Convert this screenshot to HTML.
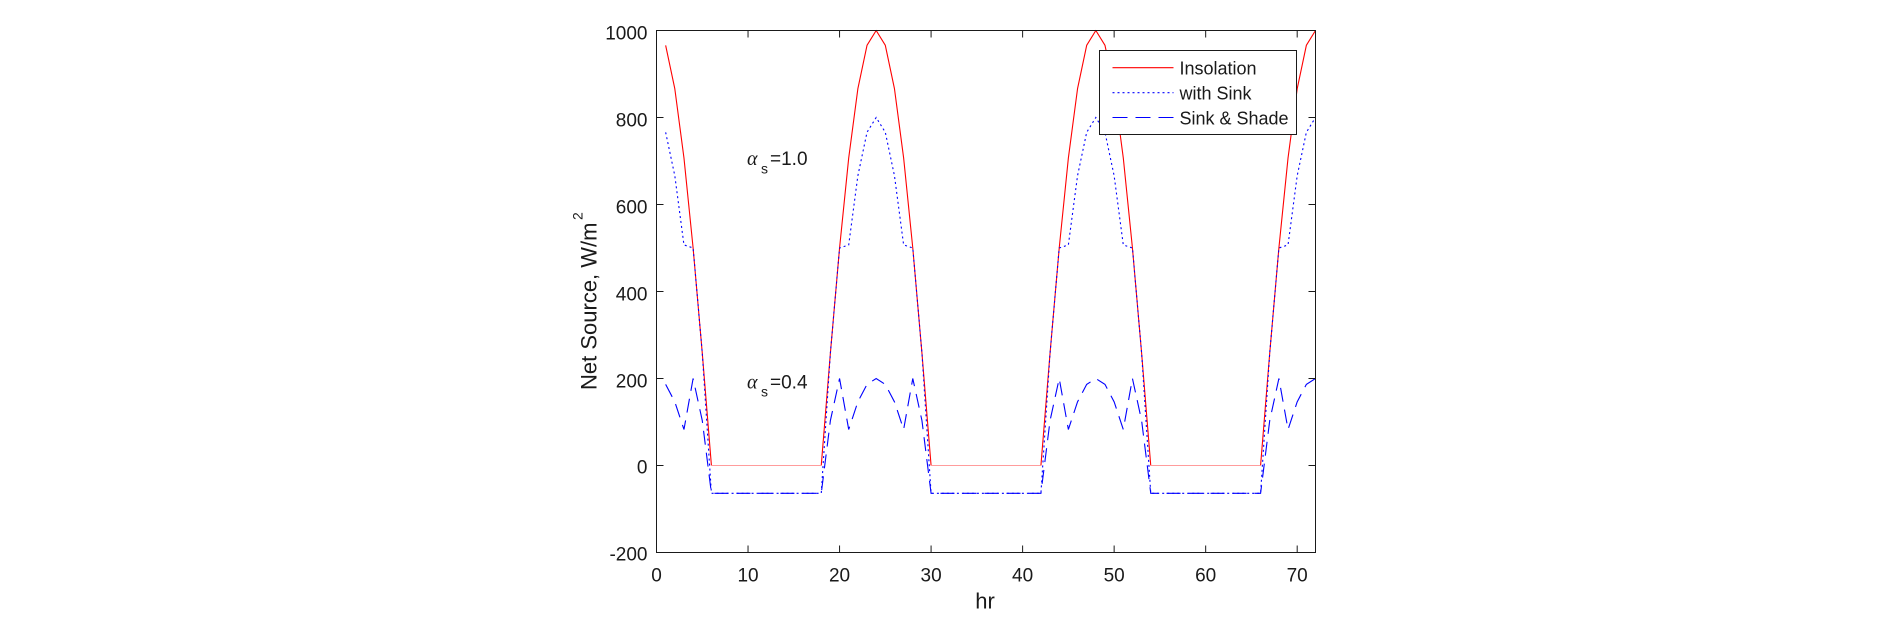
<!DOCTYPE html>
<html>
<head>
<meta charset="utf-8">
<style>
html,body{margin:0;padding:0;background:#fff;}
svg{display:block;}
text{font-family:"Liberation Sans",Arial,sans-serif;fill:#1a1a1a;}
</style>
</head>
<body>
<svg width="1890" height="638" viewBox="0 0 1890 638" xmlns="http://www.w3.org/2000/svg">
<rect x="0" y="0" width="1890" height="638" fill="#fff"/>

<!-- data: red insolation -->
<g fill="none" stroke-width="1.1" stroke-linejoin="round">
<polyline stroke="#ff0000" points="665.65,45.33 674.81,88.79 683.96,157.91 693.11,248.0 702.26,352.92 711.42,465.5"/>
<polyline stroke="#ff0000" points="821.25,465.5 830.40,352.92 839.56,248.0 848.71,157.91 857.86,88.79 867.01,45.33 876.17,30.5 885.32,45.33 894.47,88.79 903.63,157.91 912.78,248.0 921.93,352.92 931.08,465.5"/>
<polyline stroke="#ff0000" points="1040.92,465.5 1050.07,352.92 1059.22,248.0 1068.38,157.91 1077.53,88.79 1086.68,45.33 1095.83,30.5 1104.99,45.33 1114.14,88.79 1123.29,157.91 1132.44,248.0 1141.60,352.92 1150.75,465.5"/>
<polyline stroke="#ff0000" points="1260.58,465.5 1269.74,352.92 1278.89,248.0 1288.04,157.91 1297.19,88.79 1306.35,45.33 1315.50,30.5"/>
<line stroke="#ff9c9c" x1="711.42" y1="465.5" x2="821.25" y2="465.5"/>
<line stroke="#ff9c9c" x1="931.08" y1="465.5" x2="1040.92" y2="465.5"/>
<line stroke="#ff9c9c" x1="1150.75" y1="465.5" x2="1260.58" y2="465.5"/>
</g>

<!-- with Sink (dotted) -->
<polyline fill="none" stroke="#0000ff" stroke-width="1.1" stroke-dasharray="2 3" points="665.65,132.33 674.81,175.79 683.96,244.91 693.11,248.0 702.26,352.92 711.42,493.34 821.25,493.34 830.40,352.92 839.56,248.0 848.71,244.91 857.86,175.79 867.01,132.33 876.17,117.5 885.32,132.33 894.47,175.79 903.63,244.91 912.78,248.0 921.93,352.92 931.08,493.34 1040.92,493.34 1050.07,352.92 1059.22,248.0 1068.38,244.91 1077.53,175.79 1086.68,132.33 1095.83,117.5 1104.99,132.33 1114.14,175.79 1123.29,244.91 1132.44,248.0 1141.60,352.92 1150.75,493.34 1260.58,493.34 1269.74,352.92 1278.89,248.0 1288.04,244.91 1297.19,175.79 1306.35,132.33 1315.50,117.5"/>

<!-- Sink & Shade (dashed) -->
<polyline fill="none" stroke="#0000ff" stroke-width="1.1" stroke-dasharray="14 8" points="665.65,384.42 674.81,401.82 683.96,429.48 693.11,378.5 702.26,420.52 711.42,493.34 821.25,493.34 830.40,420.52 839.56,378.5 848.71,429.48 857.86,401.82 867.01,384.42 876.17,378.5 885.32,384.42 894.47,401.82 903.63,429.48 912.78,378.5 921.93,420.52 931.08,493.34 1040.92,493.34 1050.07,420.52 1059.22,378.5 1068.38,429.48 1077.53,401.82 1086.68,384.42 1095.83,378.5 1104.99,384.42 1114.14,401.82 1123.29,429.48 1132.44,378.5 1141.60,420.52 1150.75,493.34 1260.58,493.34 1269.74,420.52 1278.89,378.5 1288.04,429.48 1297.19,401.82 1306.35,384.42 1315.50,378.5"/>

<!-- axes box -->
<rect x="656.5" y="30.5" width="659" height="522" fill="none" stroke="#1a1a1a" stroke-width="1"/>

<!-- ticks -->
<g stroke="#1a1a1a" stroke-width="1">
<line x1="748.03" y1="552.5" x2="748.03" y2="545.5"/>
<line x1="839.56" y1="552.5" x2="839.56" y2="545.5"/>
<line x1="931.08" y1="552.5" x2="931.08" y2="545.5"/>
<line x1="1022.61" y1="552.5" x2="1022.61" y2="545.5"/>
<line x1="1114.14" y1="552.5" x2="1114.14" y2="545.5"/>
<line x1="1205.67" y1="552.5" x2="1205.67" y2="545.5"/>
<line x1="1297.19" y1="552.5" x2="1297.19" y2="545.5"/>
<line x1="748.03" y1="30.5" x2="748.03" y2="37.5"/>
<line x1="839.56" y1="30.5" x2="839.56" y2="37.5"/>
<line x1="931.08" y1="30.5" x2="931.08" y2="37.5"/>
<line x1="1022.61" y1="30.5" x2="1022.61" y2="37.5"/>
<line x1="1114.14" y1="30.5" x2="1114.14" y2="37.5"/>
<line x1="1205.67" y1="30.5" x2="1205.67" y2="37.5"/>
<line x1="1297.19" y1="30.5" x2="1297.19" y2="37.5"/>
<line x1="656.5" y1="117.5" x2="663.5" y2="117.5"/>
<line x1="656.5" y1="204.5" x2="663.5" y2="204.5"/>
<line x1="656.5" y1="291.5" x2="663.5" y2="291.5"/>
<line x1="656.5" y1="378.5" x2="663.5" y2="378.5"/>
<line x1="656.5" y1="465.5" x2="663.5" y2="465.5"/>
<line x1="1315.5" y1="117.5" x2="1308.5" y2="117.5"/>
<line x1="1315.5" y1="204.5" x2="1308.5" y2="204.5"/>
<line x1="1315.5" y1="291.5" x2="1308.5" y2="291.5"/>
<line x1="1315.5" y1="378.5" x2="1308.5" y2="378.5"/>
<line x1="1315.5" y1="465.5" x2="1308.5" y2="465.5"/>
</g>

<!-- y tick labels -->
<g font-size="19" text-anchor="end">
<text x="647.5" y="39.5">1000</text>
<text x="647.5" y="126.5">800</text>
<text x="647.5" y="213.5">600</text>
<text x="647.5" y="300.5">400</text>
<text x="647.5" y="387.5">200</text>
<text x="647.5" y="473.5">0</text>
<text x="647.5" y="560.5">-200</text>
</g>

<!-- x tick labels -->
<g font-size="19" text-anchor="middle">
<text x="656.5" y="581.7">0</text>
<text x="748.03" y="581.7">10</text>
<text x="839.56" y="581.7">20</text>
<text x="931.08" y="581.7">30</text>
<text x="1022.61" y="581.7">40</text>
<text x="1114.14" y="581.7">50</text>
<text x="1205.67" y="581.7">60</text>
<text x="1297.19" y="581.7">70</text>
</g>

<!-- axis labels -->
<text x="985" y="608.3" font-size="22" text-anchor="middle">hr</text>
<g transform="translate(596.7,390) rotate(-90)">
<text x="0" y="0" font-size="22">Net Source, W/m</text>
<text x="170" y="-14" font-size="14">2</text>
</g>

<!-- annotations -->
<text x="747" y="165" font-size="20" style="font-family:'Liberation Serif',serif;font-style:italic;">α</text>
<text x="761" y="173.3" font-size="14">s</text>
<text x="770" y="165" font-size="19">=1.0</text>

<text x="747" y="388.3" font-size="20" style="font-family:'Liberation Serif',serif;font-style:italic;">α</text>
<text x="761" y="396.7" font-size="14">s</text>
<text x="770" y="388.3" font-size="19">=0.4</text>

<!-- legend -->
<rect x="1099.5" y="50.5" width="197" height="84" fill="#fff" stroke="#1a1a1a" stroke-width="1"/>
<line x1="1112.5" y1="67.7" x2="1173.5" y2="67.7" stroke="#ff0000" stroke-width="1.1"/>
<line x1="1112.5" y1="92.7" x2="1173.5" y2="92.7" stroke="#0000ff" stroke-width="1.1" stroke-dasharray="2 3"/>
<line x1="1112.5" y1="117.5" x2="1173.5" y2="117.5" stroke="#0000ff" stroke-width="1.1" stroke-dasharray="15 8"/>
<g font-size="18">
<text x="1179.5" y="74.4">Insolation</text>
<text x="1179.5" y="99.5">with Sink</text>
<text x="1179.5" y="124.7">Sink &amp; Shade</text>
</g>
</svg>
</body>
</html>
